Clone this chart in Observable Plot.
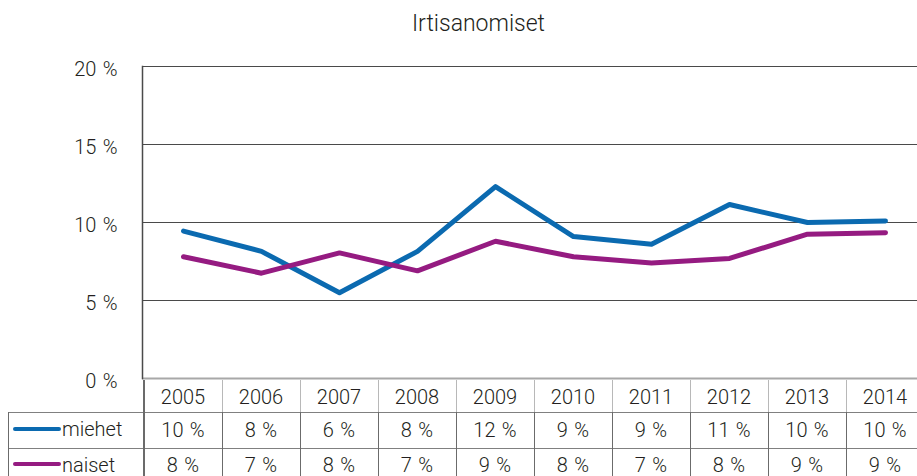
<!DOCTYPE html>
<html><head><meta charset="utf-8">
<script src="https://cdn.jsdelivr.net/npm/d3@7"></script>
<script src="https://cdn.jsdelivr.net/npm/@observablehq/plot@0.6"></script>
<style>
body{margin:0;background:#fff;overflow:hidden}
#wrap{position:relative;width:917px;height:476px;overflow:hidden;font-family:Roboto,"Liberation Sans",sans-serif;font-weight:300;color:#231f20}
#title{position:absolute;left:40px;top:4px;width:877px;height:40px;line-height:40px;text-align:center;font-size:23px}
#chart{position:absolute;left:0;top:48px}
#chart svg text{font-weight:300;word-spacing:1.5px}
.cell{position:absolute;text-align:center;font-size:20px;height:32px;line-height:32px;white-space:nowrap;word-spacing:1.5px}
.ln{position:absolute}
</style></head><body>
<div id="wrap"><div id="title">Irtisanomiset</div><div id="chart"></div><div id="table"></div></div>
<script>
const years = ["2005","2006","2007","2008","2009","2010","2011","2012","2013","2014"];
const miehet = [9.45, 8.15, 5.5, 8.15, 12.3, 9.1, 8.6, 11.15, 10.0, 10.1];
const naiset = [7.8, 6.75, 8.05, 6.9, 8.8, 7.8, 7.4, 7.7, 9.25, 9.35];
const miehetLabels = ["10 %","8 %","6 %","8 %","12 %","9 %","9 %","11 %","10 %","10 %"];
const naisetLabels = ["8 %","7 %","8 %","7 %","9 %","8 %","7 %","8 %","9 %","9 %"];
const seriesNames = ["miehet","naiset"];
const yTicks = [0,5,10,15,20];

const seriesColors = ["#0b6ab0","#951b81"];
const seriesData = {miehet: miehet, naiset: naiset};
const seriesLabels = {miehet: miehetLabels, naiset: naisetLabels};

const rows = seriesNames.flatMap(s => years.map((y,i) => ({year:y, value:seriesData[s][i], series:s})));

const chart = Plot.plot({
  width: 917, height: 332,
  marginLeft: 142, marginRight: 0, marginTop: 18, marginBottom: 2,
  style: {fontFamily: "Roboto, 'Liberation Sans', sans-serif", color: "#231f20", background: "transparent", overflow: "visible"},
  x: {type: "band", domain: years, padding: 0, range: [142, 926], axis: null},
  y: {domain: [0, 20], axis: null},
  color: {domain: seriesNames, range: seriesColors},
  marks: [
    Plot.ruleY([5,10,15,20], {stroke: "#4a4a4a", strokeWidth: 1}),
    Plot.ruleY([0], {stroke: "#a8a8a8", strokeWidth: 2}),
    Plot.frame({anchor: "left", stroke: "#4a4a4a", strokeWidth: 1.5}),
    Plot.axisY(yTicks, {label: null, tickSize: 0, tickPadding: 25, tickFormat: d => `${d} %`, fontSize: 20, dy: 3}),
    Plot.lineY(rows, {x: "year", y: "value", z: "series", stroke: "series", strokeWidth: 5, strokeLinecap: "round", strokeLinejoin: "round"})
  ]
});
document.getElementById("chart").appendChild(chart);

// data table below the chart, aligned on the plot's x scale
const xs = chart.scale("x");
const bw = xs.bandwidth;
const tbl = document.getElementById("table");
function add(cls, css, text) {
  const d = document.createElement("div");
  d.className = cls;
  Object.assign(d.style, css);
  if (text != null) d.textContent = text;
  tbl.appendChild(d);
  return d;
}
// horizontal lines
add("ln", {left: "8px", top: "412px", width: "909px", height: "1px", background: "#808080"});
add("ln", {left: "8px", top: "448px", width: "909px", height: "1px", background: "#808080"});
add("ln", {left: "8px", top: "412px", width: "1px", height: "64px", background: "#6b6b6b"});
// vertical lines and cell texts
years.forEach((y, i) => {
  const x0 = Math.round(xs.apply(y));
  add("ln", {left: (x0 - (i === 0 ? 1 : 0)) + "px", top: "380px", width: (i === 0 ? 2 : 1) + "px", height: "32px", background: i === 0 ? "#6b6b6b" : "#b8b8b8"});
  add("ln", {left: (x0 - (i === 0 ? 1 : 0)) + "px", top: "412px", width: (i === 0 ? 2 : 1) + "px", height: "64px", background: "#6b6b6b"});
  add("cell", {left: xs.apply(y) + "px", width: bw + "px", top: "381px"}, y);
  add("cell", {left: xs.apply(y) + "px", width: bw + "px", top: "414px"}, miehetLabels[i]);
  add("cell", {left: xs.apply(y) + "px", width: bw + "px", top: "449px"}, naisetLabels[i]);
});
// legend column
seriesNames.forEach((s, k) => {
  const top = k === 0 ? 413 : 449;
  const sw = k === 0 ? 426.5 : 461.5;
  add("ln", {left: "13px", top: sw + "px", width: "48px", height: "4.5px", borderRadius: "2.5px", background: seriesColors[k]});
  add("cell", {left: "62px", top: top + "px", textAlign: "left", wordSpacing: "0"}, s);
});
</script>
</body></html>
